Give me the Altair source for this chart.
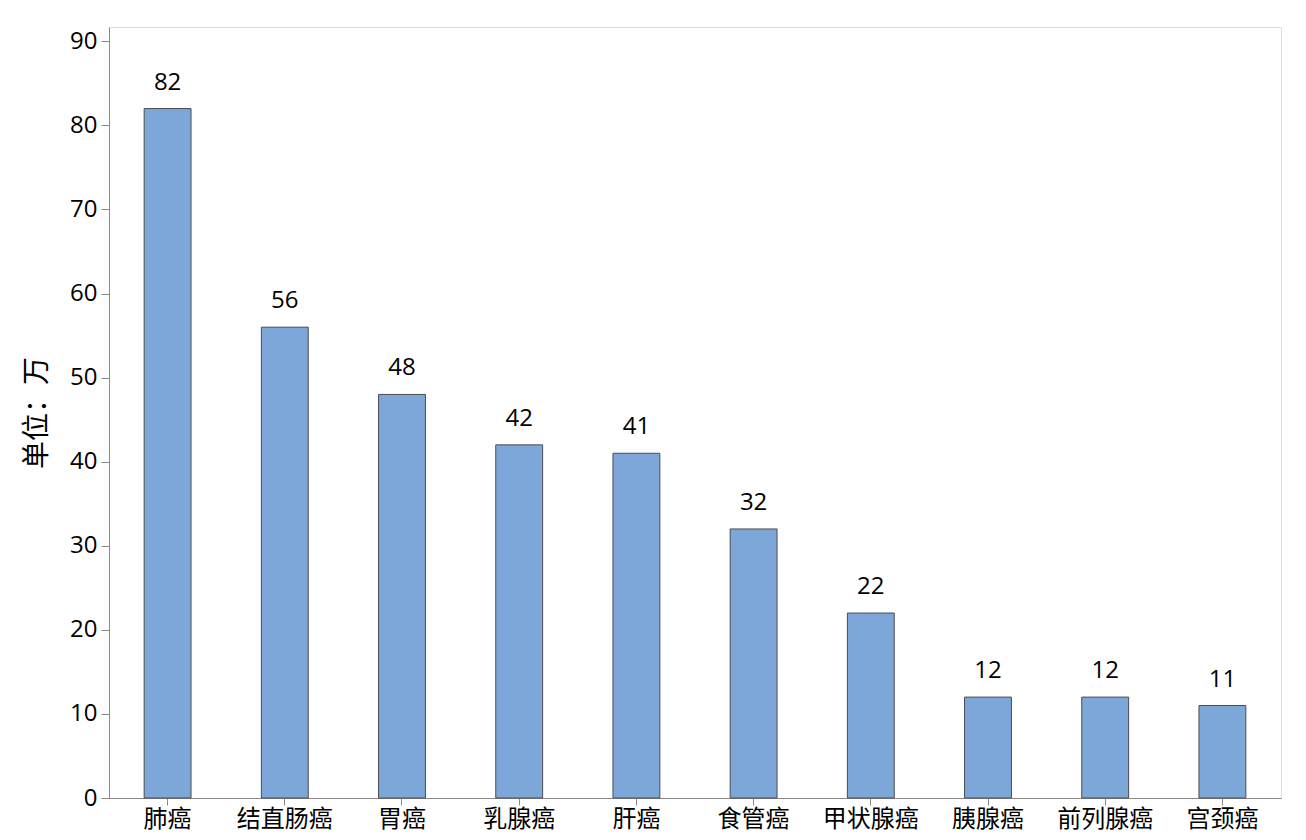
import altair as alt
import pandas as pd

categories = ["肺癌", "结直肠癌", "胃癌", "乳腺癌", "肝癌", "食管癌", "甲状腺癌", "胰腺癌", "前列腺癌", "宫颈癌"]
values = [82, 56, 48, 42, 41, 32, 22, 12, 12, 11]

df = pd.DataFrame({"cat": categories, "val": values})

num_font = "Open Sans"
cjk_font = "Noto Sans CJK SC"

x = alt.X("cat:N", sort=categories, title=None,
          scale=alt.Scale(paddingInner=0.6, paddingOuter=0.3),
          axis=alt.Axis(labelAngle=0, labelFont=cjk_font, labelFontSize=24,
                        labelColor="#000000", tickColor="#888888", domainColor="#888888",
                        tickSize=7, labelPadding=2))
y = alt.Y("val:Q", title="单位：万",
          scale=alt.Scale(domain=[0, 91.7], nice=False),
          axis=alt.Axis(values=list(range(0, 91, 10)), grid=False, labelFont=num_font,
                        labelFontSize=24, labelColor="#000000", tickColor="#888888",
                        domainColor="#888888", tickSize=8, labelPadding=4,
                        titleFont=cjk_font, titleFontSize=28, titleFontWeight="normal",
                        titleColor="#000000", titlePadding=18))

bars = alt.Chart(df).mark_bar(color="#7da7d8", stroke="#4d4d4d", strokeWidth=1).encode(x=x, y=y)
labels = alt.Chart(df).mark_text(font=num_font, fontSize=24, color="#000000",
                                 baseline="alphabetic", dy=-19).encode(x=x, y=y, text="val:Q")

chart = (bars + labels).properties(
    width=1172, height=771,
    autosize=alt.AutoSizeParams(type="none"),
    padding={"left": 101, "top": 19, "right": 10, "bottom": 40},
).configure_view(stroke="#8c8c8c", strokeWidth=1).configure(background="#ffffff")

chart.save("out.html", embed_options={"renderer": "svg", "actions": False})
